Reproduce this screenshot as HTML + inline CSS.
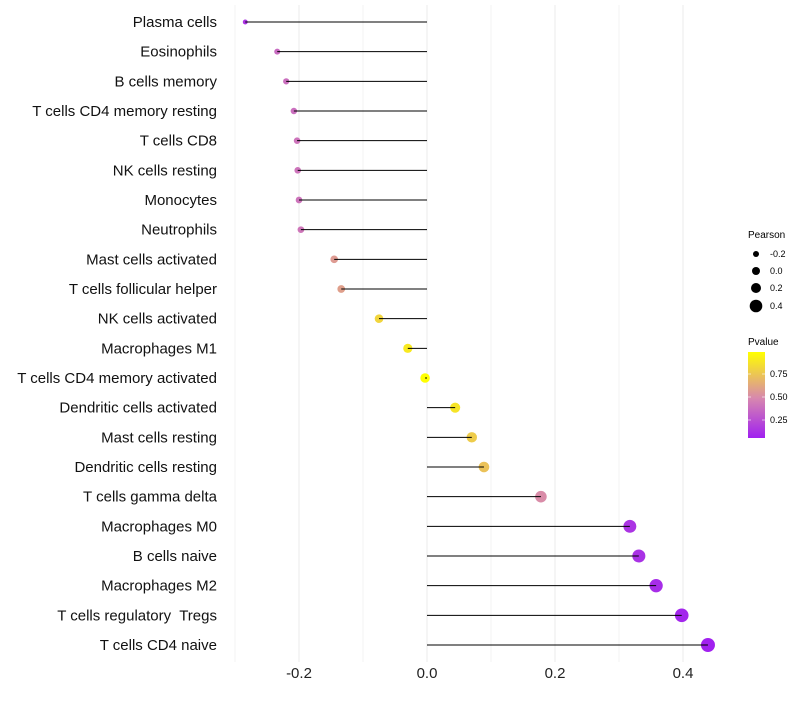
<!DOCTYPE html>
<html><head><meta charset="utf-8"><style>
body{margin:0;background:#fff;font-family:"Liberation Sans",sans-serif}
text{white-space:pre}
</style></head><body>
<svg id="c" width="800" height="700" xmlns="http://www.w3.org/2000/svg" font-family="Liberation Sans, sans-serif">
<defs><linearGradient id="pg" x1="0" y1="1" x2="0" y2="0">
<stop offset="0" stop-color="rgb(160,32,240)"/><stop offset="0.46" stop-color="rgb(215,135,175)"/><stop offset="1" stop-color="rgb(255,255,0)"/></linearGradient></defs>
<g id="grid"></g><g id="marks"></g><g id="labels"></g>
<g font-size="9">
<text x="748" y="238" font-size="10">Pearson</text>
<circle cx="756" cy="254" r="3" fill="#000"/><text x="770" y="257">-0.2</text>
<circle cx="756" cy="271" r="4" fill="#000"/><text x="770" y="274">0.0</text>
<circle cx="756" cy="288" r="5" fill="#000"/><text x="770" y="291">0.2</text>
<circle cx="756" cy="306" r="6.3" fill="#000"/><text x="770" y="309">0.4</text>
</g>
<g font-size="9">
<text x="748" y="345" font-size="10">Pvalue</text>
<rect x="748" y="352" width="17" height="86" fill="url(#pg)"/>
<line x1="748" y1="374" x2="751" y2="374" stroke="#fff" opacity=".6"/><line x1="762" y1="374" x2="765" y2="374" stroke="#fff" opacity=".6"/>
<line x1="748" y1="397" x2="751" y2="397" stroke="#fff" opacity=".6"/><line x1="762" y1="397" x2="765" y2="397" stroke="#fff" opacity=".6"/>
<line x1="748" y1="420" x2="751" y2="420" stroke="#fff" opacity=".6"/><line x1="762" y1="420" x2="765" y2="420" stroke="#fff" opacity=".6"/>
<text x="770" y="377">0.75</text><text x="770" y="400">0.50</text><text x="770" y="423">0.25</text>
</g>
</svg>
<script>
const categories=["Plasma cells","Eosinophils","B cells memory","T cells CD4 memory resting","T cells CD8","NK cells resting","Monocytes","Neutrophils","Mast cells activated","T cells follicular helper","NK cells activated","Macrophages M1","T cells CD4 memory activated","Dendritic cells activated","Mast cells resting","Dendritic cells resting","T cells gamma delta","Macrophages M0","B cells naive","Macrophages M2","T cells regulatory  Tregs","T cells CD4 naive"];
const pearson=[-0.284,-0.234,-0.220,-0.208,-0.203,-0.202,-0.200,-0.197,-0.145,-0.134,-0.075,-0.030,-0.003,0.044,0.070,0.089,0.178,0.317,0.331,0.358,0.398,0.439];
const pvalue=[0.15,0.38,0.40,0.40,0.42,0.42,0.42,0.43,0.58,0.60,0.82,0.90,0.99,0.88,0.78,0.74,0.52,0.15,0.14,0.12,0.09,0.07];
const xticks=[-0.2,0.0,0.2,0.4];
const xgrid=[-0.3,-0.1,0.1,0.3];
const NS="http://www.w3.org/2000/svg";
const X=v=>427+v*640;
const Y=i=>22+i*(645-22)/21;
const R=v=>Math.sqrt(Math.max(0,6+59.5*(v+0.284)));
function col(p){const a=[160,32,240],m=[215,135,175],b=[255,255,0];let t,c1,c2;
 if(p<0.5){t=(p-0.065)/(0.5-0.065);c1=a;c2=m}else{t=(p-0.5)/(0.99-0.5);c1=m;c2=b}
 t=Math.max(0,Math.min(1,t));return `rgb(${c1.map((v,k)=>Math.round(v+(c2[k]-v)*t)).join(",")})`}
function el(t,a,p){const e=document.createElementNS(NS,t);for(const k in a)e.setAttribute(k,a[k]);p.appendChild(e);return e}
const g=document.getElementById("grid"),mk=document.getElementById("marks"),lb=document.getElementById("labels");
xgrid.concat(xticks).forEach(v=>{const l=el("line",{x1:X(v),x2:X(v),y1:5,y2:662,stroke:"#ebebeb","stroke-width":xticks.includes(v)?1:0.6},g);

});
xticks.forEach(v=>{const t=el("text",{x:X(v),y:678,"text-anchor":"middle","font-size":15,fill:"#222"},lb);t.textContent=v.toFixed(1);

});
categories.forEach((c,i)=>{
 const y=Y(i);
 const cc=el("circle",{cx:X(pearson[i]),cy:y,r:R(pearson[i]),fill:col(pvalue[i])},mk);
 
 
 const s=el("line",{x1:X(0),x2:X(pearson[i]),y1:y,y2:y,stroke:"#000","stroke-width":1},mk);
 
 
 const t=el("text",{x:217,y:y+5,"text-anchor":"end","font-size":15,fill:"#111"},lb);t.textContent=c;
 
 
});
</script>
</body></html>
